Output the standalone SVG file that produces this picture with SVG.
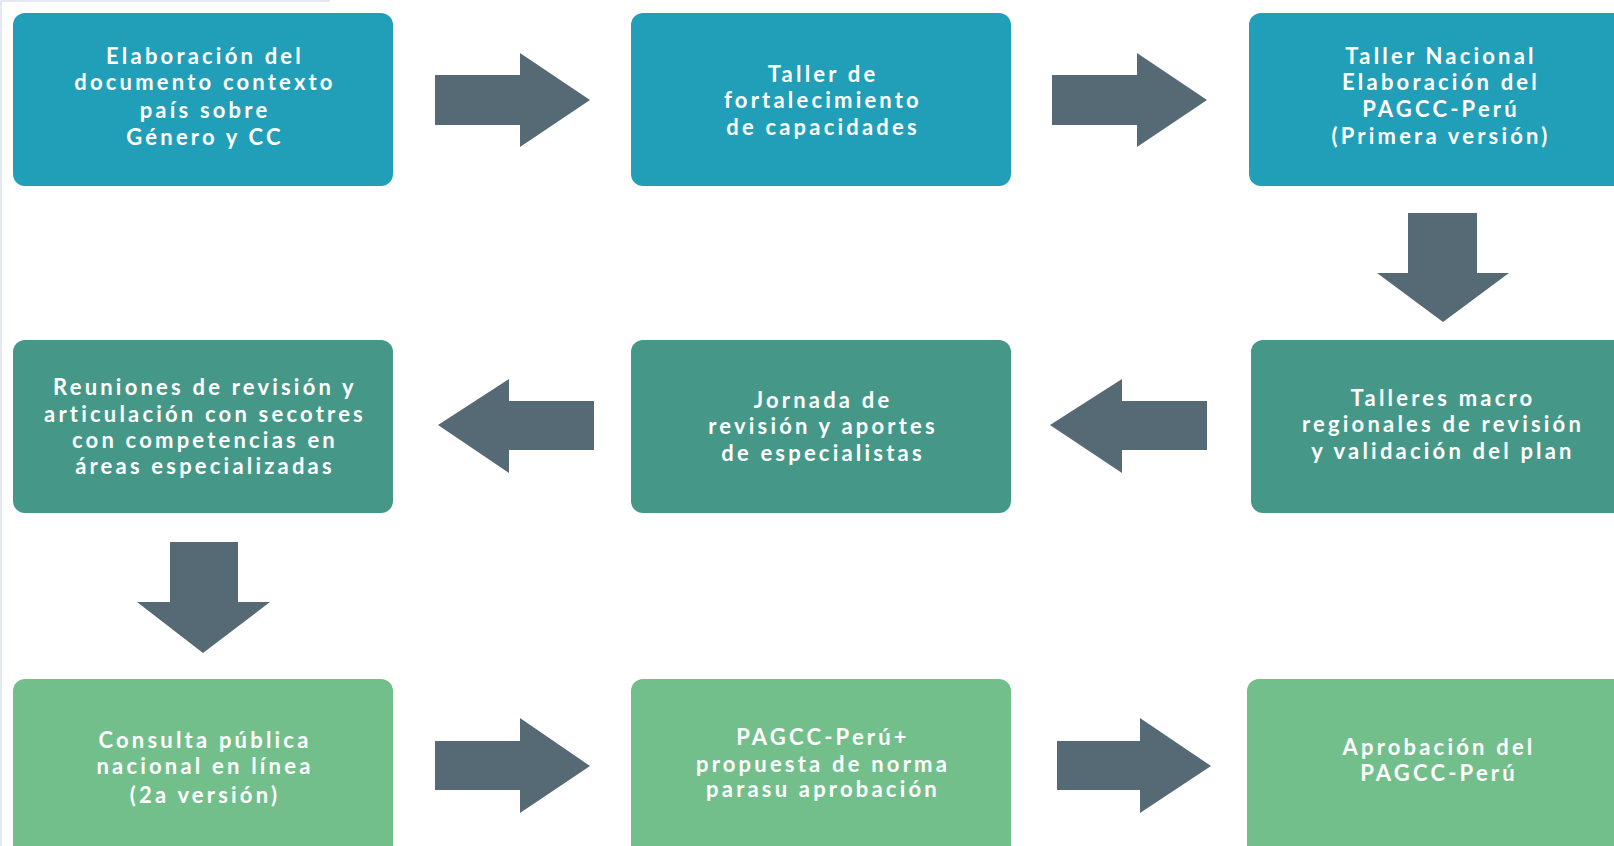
<svg xmlns="http://www.w3.org/2000/svg" width="1614" height="846" viewBox="0 0 1614 846">
<style>
.b1{fill:#229fb8}
.b2{fill:#459887}
.b3{fill:#73bf8c}
.ar{fill:#566a76}
text{font-family:Lato,"Open Sans","Liberation Sans",sans-serif;font-weight:700;font-size:22px;fill:#ffffff;text-anchor:middle;letter-spacing:3.2px}
</style>
<rect x="0" y="0" width="1614" height="846" fill="#ffffff"/>
<path d="M1,846 V1 H330" fill="none" stroke="#e4e8f0" stroke-width="2"/>
<g id="n1"><rect class="b1" x="13" y="13" width="380" height="173" rx="12"/>
<text><tspan x="205" y="64">Elaboración del</tspan><tspan x="205" y="90">documento contexto</tspan><tspan x="205" y="118">país sobre</tspan><tspan x="205" y="145">Género y CC</tspan></text></g>
<g id="n2"><rect class="b1" x="631" y="13" width="380" height="173" rx="12"/>
<text><tspan x="823" y="82">Taller de</tspan><tspan x="823" y="108">fortalecimiento</tspan><tspan x="823" y="135">de capacidades</tspan></text></g>
<g id="n3"><rect class="b1" x="1249" y="13" width="380" height="173" rx="12"/>
<text><tspan x="1441" y="64">Taller Nacional</tspan><tspan x="1441" y="90">Elaboración del</tspan><tspan x="1441" y="117">PAGCC-Perú</tspan><tspan x="1441" y="144">(Primera versión)</tspan></text></g>
<g id="n4"><rect class="b2" x="13" y="340" width="380" height="173" rx="12"/>
<text><tspan x="205" y="395">Reuniones de revisión y</tspan><tspan x="205" y="422">articulación con secotres</tspan><tspan x="205" y="448">con competencias en</tspan><tspan x="205" y="474">áreas especializadas</tspan></text></g>
<g id="n5"><rect class="b2" x="631" y="340" width="380" height="173" rx="12"/>
<text><tspan x="823" y="408">Jornada de</tspan><tspan x="823" y="434">revisión y aportes</tspan><tspan x="823" y="461">de especialistas</tspan></text></g>
<g id="n6"><rect class="b2" x="1251" y="340" width="380" height="173" rx="12"/>
<text><tspan x="1443" y="406">Talleres macro</tspan><tspan x="1443" y="432">regionales de revisión</tspan><tspan x="1443" y="459">y validación del plan</tspan></text></g>
<g id="n7"><rect class="b3" x="13" y="679" width="380" height="180" rx="12"/>
<text><tspan x="205" y="748">Consulta pública</tspan><tspan x="205" y="774">nacional en línea</tspan><tspan x="205" y="803">(2a versión)</tspan></text></g>
<g id="n8"><rect class="b3" x="631" y="679" width="380" height="180" rx="12"/>
<text><tspan x="823" y="745">PAGCC-Perú+</tspan><tspan x="823" y="772">propuesta de norma</tspan><tspan x="823" y="797">parasu aprobación</tspan></text></g>
<g id="n9"><rect class="b3" x="1247" y="679" width="380" height="180" rx="12"/>
<text><tspan x="1439" y="755">Aprobación del</tspan><tspan x="1439" y="781">PAGCC-Perú</tspan></text></g>
<g id="connectors">
<polygon class="ar" points="435,75 520,75 520,53 590,100 520,147 520,125 435,125"/>
<polygon class="ar" points="1052,75 1137,75 1137,53 1207,100 1137,147 1137,125 1052,125"/>
<polygon class="ar" points="1408,213 1477,213 1477,273 1509,273 1443,322 1377,273 1408,273"/>
<polygon class="ar" points="1207,401 1122,401 1122,379 1050,425 1122,473 1122,450 1207,450"/>
<polygon class="ar" points="594,401 509,401 509,379 438,425 509,473 509,450 594,450"/>
<polygon class="ar" points="170,542 238,542 238,602 270,602 203,653 137,602 170,602"/>
<polygon class="ar" points="435,741 520,741 520,718 590,766 520,813 520,790 435,790"/>
<polygon class="ar" points="1057,741 1140,741 1140,718 1211,766 1140,813 1140,790 1057,790"/>
</g>
</svg>
